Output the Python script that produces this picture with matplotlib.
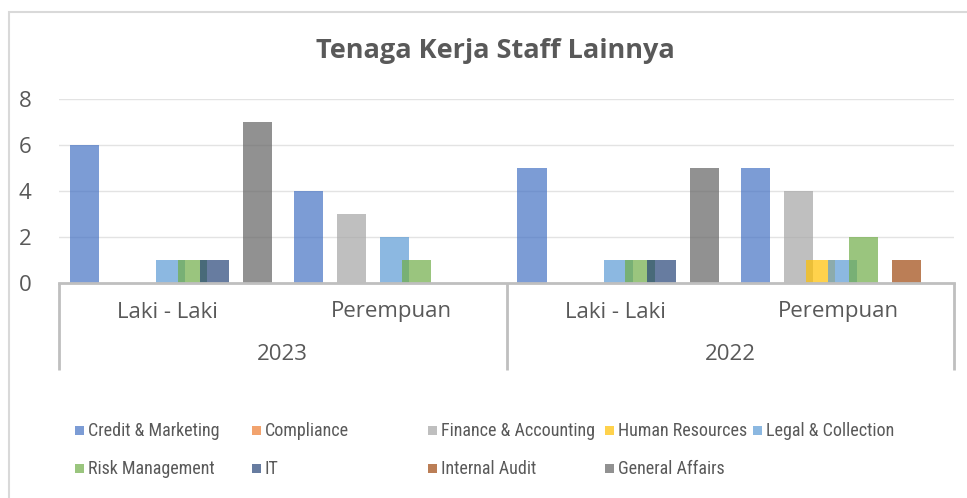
import matplotlib
matplotlib.use("Agg")
import matplotlib.pyplot as plt
import matplotlib.transforms as mtransforms
from matplotlib.patches import Rectangle
import numpy as np

title = "Tenaga Kerja Staff Lainnya"
genders = ["Laki - Laki", "Perempuan", "Laki - Laki", "Perempuan"]
years = ["2023", "2022"]
series_names = ["Credit & Marketing", "Compliance", "Finance & Accounting",
                "Human Resources", "Legal & Collection", "Risk Management",
                "IT", "Internal Audit", "General Affairs"]
credit_marketing = [6, 4, 5, 5]
compliance = [0, 0, 0, 0]
finance_accounting = [0, 3, 0, 4]
human_resources = [0, 0, 0, 1]
legal_collection = [1, 2, 1, 1]
risk_management = [1, 1, 1, 2]
it = [1, 0, 1, 0]
internal_audit = [0, 0, 0, 1]
general_affairs = [7, 0, 5, 0]
series_values = [credit_marketing, compliance, finance_accounting, human_resources,
                 legal_collection, risk_management, it, internal_audit, general_affairs]
colors = ["#4472C4", "#ED7D31", "#A5A5A5", "#FFC000", "#5B9BD5",
          "#70AD47", "#264478", "#9E480E", "#636363"]
yticks = [0, 2, 4, 6, 8]

TXT = "#595959"
W, H = 967, 498
fig = plt.figure(figsize=(W / 100, H / 100), dpi=100)

# outer chart border
fig.patches.append(Rectangle((9 / W, -0.1), 1.2, 1 - 12 / H + 0.1, transform=fig.transFigure,
                             fill=False, edgecolor="#D9D9D9", lw=1.5))

ax_l, ax_r, ax_b, ax_t = 59, 954, 283, 99
ax = fig.add_axes([ax_l / W, 1 - ax_b / H, (ax_r - ax_l) / W, (ax_b - ax_t) / H])

x = np.arange(len(genders))
slot = 0.0965
bw = 0.13
n = len(series_names)
for i, (name, vals, c) in enumerate(zip(series_names, series_values, colors)):
    ax.bar(x + (i - (n - 1) / 2) * slot, vals, width=bw, color=c, alpha=0.7,
           linewidth=0, label=name, zorder=3)

ax.set_xlim(-0.5, len(genders) - 0.5)
ax.set_ylim(0, 8)
ax.set_yticks(yticks)
ax.set_yticklabels([str(v) for v in yticks], fontsize=16, color=TXT, family="Open Sans")
ax.tick_params(axis="y", length=0, pad=20)
ax.set_xticks([])
for s in ["top", "right", "left"]:
    ax.spines[s].set_visible(False)
ax.spines["bottom"].set_color("#BFBFBF")
ax.spines["bottom"].set_linewidth(2)
ax.spines["bottom"].set_zorder(4)
ax.grid(axis="y", color="#E3E3E3", lw=1, zorder=0)
ax.set_facecolor("none")

ah = ax_b - ax_t
trans = mtransforms.blended_transform_factory(ax.transData, ax.transAxes)
# multi-level category separators
for xv in [-0.5, 1.5, 3.5]:
    ax.plot([xv, xv], [0, -(370 - ax_b) / ah], color="#BFBFBF", lw=2,
            transform=trans, clip_on=False, solid_capstyle="butt")
for xi, g in zip(x, genders):
    ax.text(xi - 0.015, -(312 - ax_b) / ah, g, transform=trans, ha="center", va="center",
            fontsize=16, color=TXT, family="Open Sans")
for k, yr in enumerate(years):
    ax.text(2 * k + 0.5, -(355 - ax_b) / ah, yr, transform=trans, ha="center", va="center",
            fontsize=16, color=TXT, family="Open Sans")

fig.text(495 / W, 1 - 51 / H, title, ha="center", va="center", fontsize=19.5,
         fontweight="bold", color=TXT, family="Open Sans")

# legend
col_x = [75, 252, 428, 605, 753]
row_y = [430, 468]
for i, (name, c) in enumerate(zip(series_names, colors)):
    cx = col_x[i % 5]
    cy = row_y[i // 5]
    fig.patches.append(Rectangle((cx / W, 1 - (cy + 4.5) / H), 9 / W, 9 / H,
                                 transform=fig.transFigure, facecolor=c, alpha=0.7, lw=0))
    fig.text((cx + 13) / W, 1 - (cy + 1) / H, name, ha="left", va="center", fontsize=13,
             color=TXT, family=["Roboto Condensed", "Roboto"])

fig.savefig("out.png", dpi=100)
